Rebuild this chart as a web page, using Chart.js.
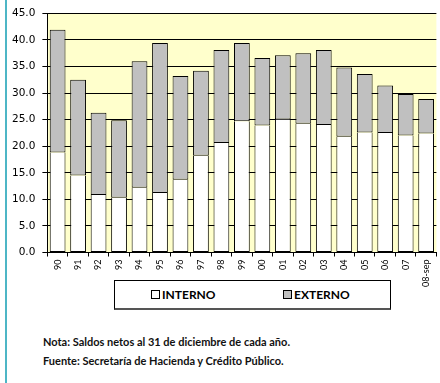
<!DOCTYPE html>
<html>
<head>
<meta charset="utf-8">
<script src="https://cdn.jsdelivr.net/npm/chart.js@4.4.1/dist/chart.umd.min.js"></script>
<style>
  body { margin: 0; background: #fff; }
  #page { position: relative; width: 440px; height: 383px; overflow: hidden; }
  #side { position: absolute; left: 5px; top: 0; width: 2px; height: 383px; background: #4db6c6; }
  #wrap { position: absolute; left: 0; top: 0; width: 440px; height: 292px; }
  #legend {
    position: absolute; left: 114px; top: 280px; width: 275px; height: 27px;
    border: 1px solid #000; border-bottom: 2px solid #555; background: #fff;
    font: 700 12px Lato, "Open Sans", sans-serif; color: #000;
  }
  #legend .item { position: absolute; top: 6px; white-space: nowrap; }
  #legend .box { display: inline-block; width: 7px; height: 7px; border: 1px solid #000; margin-right: 2px; vertical-align: 0px; }
  #notes {
    position: absolute; left: 43px; top: 332px;
    font: 700 11px Lato, "Open Sans", sans-serif; line-height: 19px; color: #111;
  }
</style>
</head>
<body>
<div id="page">
  <div id="side"></div>
  <div id="wrap"><canvas id="deuda"></canvas></div>
  <div id="legend"></div>
  <div id="notes">
    Nota: Saldos netos al 31 de diciembre de cada año.<br>
    Fuente: Secretaría de Hacienda y Crédito Público.
  </div>
</div>
<script>
// Years (x axis)
const years = ['90', '91', '92', '93', '94', '95', '96', '97', '98', '99',
               '00', '01', '02', '03', '04', '05', '06', '07', '08-sep'];

// Deuda interna (bottom segment)
const interno = [18.8, 14.5, 10.8, 10.3, 12.2, 11.2, 13.7, 18.2, 20.6, 24.7,
                 23.9, 25.0, 24.2, 24.0, 21.8, 22.6, 22.5, 22.0, 22.4];

// Deuda externa (top segment)
const externo = [23.1, 18.0, 15.5, 14.6, 23.8, 28.2, 19.5, 16.0, 17.5, 14.7,
                 12.7, 12.1, 13.3, 14.1, 13.0, 11.0, 8.9, 7.8, 6.5];

const seriesNames = ['INTERNO', 'EXTERNO'];
const seriesColors = ['#ffffff', '#c0c0c0'];
const legendX = [36, 168]; // offset of each legend item inside the box

// yellow plot background
const plotBg = {
    id: 'plotBg',
    beforeDraw(chart) {
        const a = chart.chartArea;
        const ctx = chart.ctx;
        ctx.save();
        ctx.fillStyle = '#ffffcc';
        ctx.fillRect(a.left, a.top, a.right - a.left, a.bottom - a.top);
        ctx.restore();
    }
};

const ctx = document.getElementById('deuda').getContext('2d');
const chart = new Chart(ctx, {
    type: 'bar',
    data: {
        labels: years,
        datasets: [interno, externo].map((d, i) => ({
            label: seriesNames[i],
            data: d,
            backgroundColor: seriesColors[i],
            borderColor: '#000',
            borderWidth: 1,
            // the grey segment draws the shared edge
            borderSkipped: i === 0 ? 'end' : false,
            barPercentage: 0.77,
            categoryPercentage: 1
        }))
    },
    options: {
        responsive: true,
        maintainAspectRatio: false,
        animation: false,
        layout: { padding: { left: 5, right: 2, top: 5, bottom: 2 } },
        plugins: {
            legend: { display: false },
            tooltip: { enabled: false }
        },
        scales: {
            x: {
                stacked: true,
                grid: {
                    offset: true,
                    drawOnChartArea: false,
                    color: '#000',
                    tickLength: 4
                },
                border: { color: '#000' },
                ticks: {
                    minRotation: 90,
                    maxRotation: 90,
                    padding: 3,
                    color: '#000',
                    font: { family: 'Lato', size: 9 }
                }
            },
            y: {
                stacked: true,
                min: 0,
                max: 45,
                grid: { color: '#000', tickLength: 5 },
                border: { color: '#000' },
                ticks: {
                    stepSize: 5,
                    padding: 7,
                    color: '#000',
                    font: { family: 'DejaVu Sans', size: 10.5 },
                    callback: v => v.toFixed(1)
                }
            }
        }
    },
    plugins: [plotBg]
});

// legend built from the datasets
const legend = document.getElementById('legend');
chart.data.datasets.forEach((ds, i) => {
    const item = document.createElement('span');
    item.className = 'item';
    item.style.left = legendX[i] + 'px';
    item.innerHTML = '<span class="box" style="background:' + ds.backgroundColor + '"></span>' + ds.label;
    legend.appendChild(item);
});
</script>
</body>
</html>
